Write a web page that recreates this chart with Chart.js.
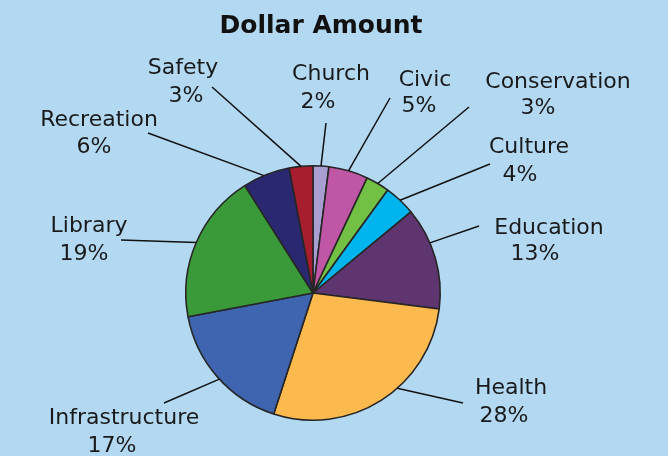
<!DOCTYPE html>
<html>
<head>
<meta charset="utf-8">
<script src="https://cdn.jsdelivr.net/npm/chart.js@4.4.0/dist/chart.umd.min.js"></script>
<style>
  html, body { margin: 0; padding: 0; background: #b3d9f2; }
  canvas { display: block; }
</style>
</head>
<body>
<canvas id="dollars" width="668" height="456"></canvas>
<script>
// data
const categories = ["Church", "Civic", "Conservation", "Culture", "Education",
  "Health", "Infrastructure", "Library", "Recreation", "Safety"];
const percents = [2, 5, 3, 4, 13, 28, 17, 19, 6, 3];

const sliceColors = ["#a89ed2", "#c057a6", "#72c044", "#00b4ee", "#5f3570",
  "#fcb94d", "#3f65b0", "#3a9a3a", "#2a2870", "#a81e2e"];

// label placement: line end [x, y], name centre [x, y], percent centre [x, y],
// where along the slice the leader starts (0..1)
const labelSpots = [
  [[326, 123], [331, 74], [318, 102], 0.5],
  [[390, 98], [425, 80], [419, 106], 0.5],
  [[469, 107], [558, 82], [538, 108], 0.5],
  [[490, 164], [529, 147], [520, 175], 0.5],
  [[479, 226], [549, 228], [535, 254], 0.35],
  [[463, 403], [511, 388], [504, 416], 0.41],
  [[164, 403], [124, 418], [112, 446], 0.48],
  [[121, 240], [89, 226], [84, 254], 0.5],
  [[148, 133], [99, 120], [94, 147], 0.45],
  [[212, 87], [183, 68], [186, 96], 0.5],
];

const labelPlugin = {
  id: "labelPlugin",
  afterDatasetsDraw(chart) {
    const ctx = chart.ctx;
    const meta = chart.getDatasetMeta(0);
    ctx.save();
    ctx.fillStyle = "#111";
    ctx.font = "bold 25px 'DejaVu Sans'";
    ctx.textAlign = "center";
    ctx.textBaseline = "middle";
    ctx.fillText("Dollar Amount", 321, 26);

    ctx.strokeStyle = "#111";
    ctx.lineWidth = 1.5;
    ctx.font = "22px 'DejaVu Sans'";
    meta.data.forEach((arc, i) => {
      const p = arc.getProps(["x", "y", "startAngle", "endAngle", "outerRadius"], true);
      const spot = labelSpots[i];
      const a = p.startAngle + (p.endAngle - p.startAngle) * spot[3];
      const sx = p.x + Math.cos(a) * p.outerRadius;
      const sy = p.y + Math.sin(a) * p.outerRadius;
      ctx.beginPath();
      ctx.moveTo(sx, sy);
      ctx.lineTo(spot[0][0], spot[0][1]);
      ctx.stroke();
      ctx.fillStyle = "#1a1a1a";
      ctx.fillText(categories[i], spot[1][0], spot[1][1]);
      ctx.fillText(percents[i] + "%", spot[2][0], spot[2][1]);
    });
    ctx.restore();
  },
};

const dollars = document.getElementById("dollars").getContext("2d");

let myChartDollars = new Chart(dollars, {
  type: "pie",
  data: {
    labels: categories,
    datasets: [
      {
        data: percents,
        backgroundColor: sliceColors,
        borderColor: "#262626",
        borderWidth: 1.6,
      },
    ],
  },
  options: {
    responsive: false,
    animation: false,
    layout: {
      padding: { left: 185, top: 165, right: 227, bottom: 35 },
    },
    plugins: {
      legend: { display: false },
      tooltip: { enabled: false },
      title: { display: false },
    },
  },
  plugins: [labelPlugin],
});
</script>
</body>
</html>
